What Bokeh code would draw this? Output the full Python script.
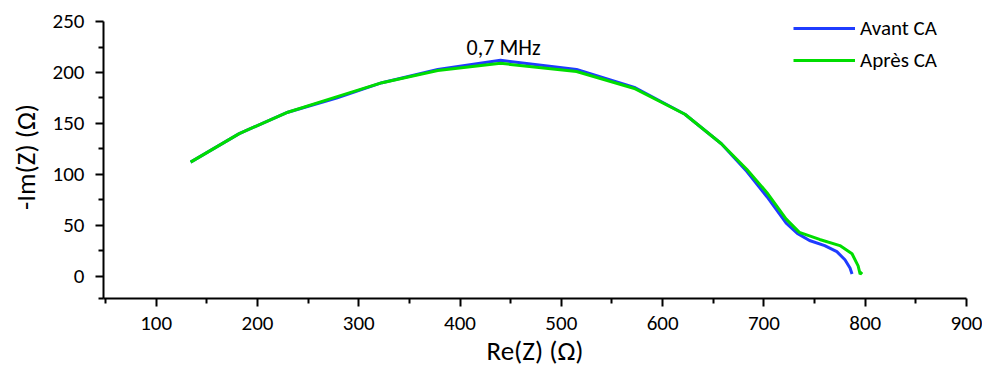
from bokeh.plotting import figure
from bokeh.embed import file_html
from bokeh.resources import INLINE
from bokeh.models import Range1d, FixedTicker, Legend, LegendItem, Label

# Data
avant_re = [134, 182, 230, 278, 323, 378, 440, 515, 573, 622, 658, 683, 703, 722, 733, 745, 760, 772, 780, 785, 787]
avant_im = [112, 140, 161, 175, 190, 203, 212, 203, 185, 159, 130, 103, 78, 52, 42, 35, 30, 24, 16, 8, 2]
apres_re = [134, 182, 230, 278, 323, 378, 440, 515, 573, 622, 658, 683, 703, 722, 735, 755, 775, 787, 793, 795, 797]
apres_im = [112, 140, 161, 176, 190, 202, 209, 201, 184, 159, 130, 105, 82, 56, 43, 36, 30, 22, 10, 2, 4]
x_ticks = [100, 200, 300, 400, 500, 600, 700, 800, 900]
y_ticks = [0, 50, 100, 150, 200, 250]
annot_text = "0,7 MHz"
annot_x = 443
annot_y = 225

FONT = "Carlito, Lato"

p = figure(width=982, height=376, output_backend="svg", toolbar_location=None,
           x_range=Range1d(48, 900), y_range=Range1d(-22, 256),
           min_border_left=103, min_border_right=16, min_border_top=15, min_border_bottom=78)
p.outline_line_color = None
p.xgrid.visible = False
p.ygrid.visible = False

r1 = p.line(avant_re, avant_im, line_color="#1f3cff", line_width=3)
r2 = p.line(apres_re, apres_im, line_color="#00dd00", line_width=3)

for ax in (p.xaxis[0], p.yaxis[0]):
    ax.axis_line_color = "black"
    ax.axis_line_width = 2
    ax.major_tick_line_color = "black"
    ax.major_tick_line_width = 2
    ax.minor_tick_line_color = "black"
    ax.minor_tick_line_width = 2
    ax.major_tick_out = 8
    ax.major_tick_in = 0
    ax.minor_tick_out = 5
    ax.minor_tick_in = 0
    ax.major_label_text_font = FONT
    ax.major_label_text_font_size = "21px"
    ax.major_label_text_color = "black"
    ax.axis_label_text_font = FONT
    ax.axis_label_text_font_size = "27px"
    ax.axis_label_text_font_style = "normal"
    ax.axis_label_text_color = "black"

p.yaxis[0].bounds = (-22, 250)
p.xaxis[0].ticker = FixedTicker(ticks=x_ticks, minor_ticks=[50 + 100 * i for i in range(9)])
p.yaxis[0].ticker = FixedTicker(ticks=y_ticks, minor_ticks=[-25 + 50 * i for i in range(6)] + [-22])
p.xaxis[0].axis_label = "Re(Z) (Ω)"
p.yaxis[0].axis_label = "-Im(Z) (Ω)"
p.xaxis[0].major_label_standoff = 10
p.yaxis[0].major_label_standoff = 11
p.xaxis[0].axis_label_standoff = 1
p.yaxis[0].axis_label_standoff = 8

p.add_layout(Label(x=annot_x, y=annot_y, text=annot_text, text_font=FONT,
                   text_font_size="22px", text_align="center", text_baseline="alphabetic",
                   text_color="black"))

legend = Legend(items=[LegendItem(label="Avant CA", renderers=[r1]),
                       LegendItem(label="Après CA", renderers=[r2])],
                location=(690, 225))
legend.border_line_color = None
legend.background_fill_alpha = 0
legend.label_text_font = FONT
legend.label_text_font_size = "21px"
legend.label_text_color = "black"
legend.glyph_width = 62
legend.spacing = 6
legend.label_standoff = 5
legend.margin = 0
legend.padding = 0
legend.label_height = 26
legend.glyph_height = 26
p.add_layout(legend)

open("out.html", "w").write(file_html(p, INLINE))
